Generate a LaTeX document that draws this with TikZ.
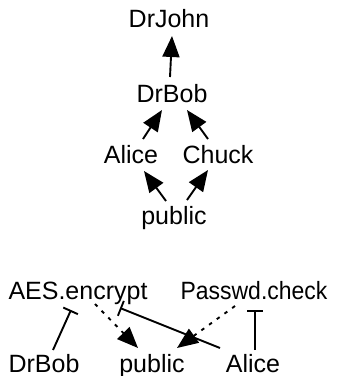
\documentclass[tikz,border=0pt]{standalone}
\usepackage{fontspec}
\setmainfont{Liberation Sans}
\usetikzlibrary{arrows.meta}

\tikzset{
  lbl/.style={anchor=base, inner sep=0pt, font=\fontsize{25}{30}\selectfont},
  link/.style={line width=1.9pt},
  flow/.style={link, -{Triangle[length=21pt,width=17pt]}},
  weak/.style={flow, dash pattern=on 3.5pt off 6pt},
  block/.style={link, -{Bar[width=16pt,line width=1.9pt]}},
}

\begin{document}
\begin{tikzpicture}[x=1pt, y=-1pt]
  \useasboundingbox (0,0) rectangle (337,376);

  % upper hierarchy
  \node[lbl] (john)  at (169,27)  {DrJohn};
  \node[lbl] (bob)   at (172,102) {DrBob};
  \node[lbl] (alice) at (131,163) {Alice};
  \node[lbl] (chuck) at (218,163) {Chuck};
  \node[lbl] (pub)   at (174,224) {public};

  \draw[flow] ([shift={(-2,-25)}]bob.base)   -- ([shift={(3,9)}]john.base);
  \draw[flow] ([shift={(12,-24)}]alice.base) -- ([shift={(-10,8)}]bob.base);
  \draw[flow] ([shift={(-10,-24)}]chuck.base) -- ([shift={(15,8)}]bob.base);
  \draw[flow] ([shift={(-8,-23)}]pub.base)   -- ([shift={(13,8)}]alice.base);
  \draw[flow] ([shift={(13,-24)}]pub.base)   -- ([shift={(-10,7)}]chuck.base);

  % operations and who may use them
  \node[lbl] (aes)    at (78,299)  {AES.encrypt};
  \node[lbl] (passwd) at (254,299) {\scalebox{0.918}[1]{Passwd.check}};
  \node[lbl] (bob2)   at (44,372)  {DrBob};
  \node[lbl] (pub2)   at (152,372) {public};
  \node[lbl] (alice2) at (253,372) {Alice};

  \draw[block] ([shift={(9,-22)}]bob2.base)    -- ([shift={(-7,11)}]aes.base);
  \draw[weak]  ([shift={(17,5)}]aes.base)      -- ([shift={(-14,-24)}]pub2.base);
  \draw[weak]  ([shift={(-19,7)}]passwd.base)  -- ([shift={(25,-24)}]pub2.base);
  \draw[block] ([shift={(-33,-24)}]alice2.base) -- ([shift={(42,9)}]aes.base);
  \draw[block] ([shift={(2,-22)}]alice2.base)  -- ([shift={(1,11)}]passwd.base);
\end{tikzpicture}
\end{document}
